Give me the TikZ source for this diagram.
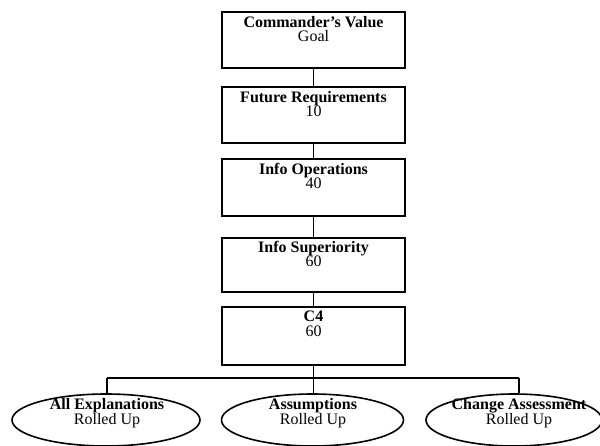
\documentclass[tikz,border=0pt]{standalone}
\usepackage{fontspec}
\setmainfont{Liberation Serif}
\usetikzlibrary{shapes.geometric}
\begin{document}
\begin{tikzpicture}[x=1pt,y=-1pt,
  box/.style={draw, line width=1.8pt, rectangle, inner sep=0pt, minimum width=183pt},
  oval/.style={draw, line width=1.6pt, ellipse, inner sep=0pt, minimum height=52pt},
  txt/.style={anchor=north, inner sep=0pt, align=center, font=\fontsize{16}{14.5}\selectfont},
  link/.style={line width=1.4pt}
]
\useasboundingbox (0,0) rectangle (600,445);

% value hierarchy boxes
\node[box, minimum height=56pt] (b1) at (313.5,40) {};
\node[box, minimum height=56pt] (b2) at (313.5,115) {};
\node[box, minimum height=57pt] (b3) at (313.5,187.5) {};
\node[box, minimum height=54pt] (b4) at (313.5,265) {};
\node[box, minimum height=58pt] (b5) at (313.5,336) {};

\node[txt] (t1) at (313.5,16) {\textbf{Commander's Value}\\Goal};
\node[txt] (t2) at (313.5,91) {\textbf{Future Requirements}\\10};
\node[txt] (t3) at (313.5,163) {\textbf{Info Operations}\\40};
\node[txt] (t4) at (313.5,241) {\textbf{Info Superiority}\\60};
\node[txt] (t5) at (313.5,311) {\textbf{C4}\\60};

\draw[link] (b1.south) -- (b2.north);
\draw[link] (b2.south) -- (b3.north);
\draw[link] (b3.south) -- (b4.north);
\draw[link] (b4.south) -- (b5.north);

% roll-up ellipses
\node[oval, minimum width=188pt] (e1) at (106,420) {};
\node[oval, minimum width=182pt] (e2) at (312.5,420) {};
\node[oval, minimum width=176pt] (e3) at (514,420) {};

\node[txt] (l1) at (107,398) {\textbf{All Explanations}\\Rolled Up};
\node[txt] (l2) at (313,398) {\textbf{Assumptions}\\Rolled Up};
\node[txt] (l3) at (519,398) {\textbf{Change Assessment}\\Rolled Up};

% distribution bus
\coordinate (bus) at (313.5,378);
\coordinate (busL) at (107,378);
\coordinate (busR) at (519,378);
\draw[link] (b5.south) -- (bus);
\draw[link] (busL) -- (busR);
\draw[link] (busL) -- (busL |- e1.north);
\draw[link] (bus) -- (bus |- e2.north);
\draw[link] (busR) -- (busR |- e3.north);
\end{tikzpicture}
\end{document}
